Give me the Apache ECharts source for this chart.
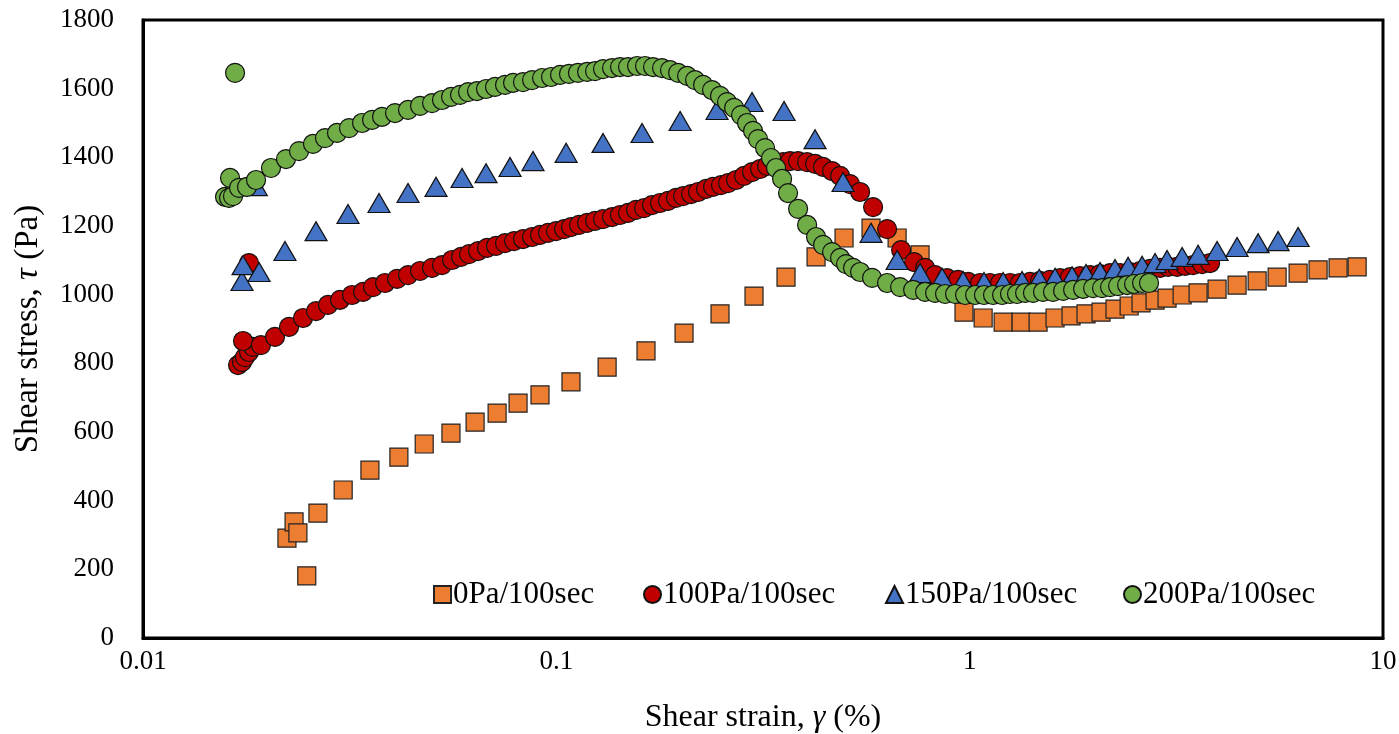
<!DOCTYPE html>
<html>
<head>
<meta charset="utf-8">
<script src="https://cdn.jsdelivr.net/npm/echarts@6/dist/echarts.min.js"></script>
<style>
  html, body { margin: 0; padding: 0; background: #fff; }
  #chart { width: 1399px; height: 734px; }
</style>
</head>
<body>
<div id="chart"></div>
<script>
// 0Pa/100sec
var strain0 = [0.0223, 0.0232, 0.0237, 0.0249, 0.0265, 0.0305, 0.0354, 0.0416, 0.0479, 0.0556,
  0.0636, 0.0719, 0.0808, 0.0913, 0.1085, 0.1327, 0.1648, 0.2037, 0.2489, 0.3008,
  0.3595, 0.4250, 0.4967, 0.5773, 0.6675, 0.7586, 0.969, 1.078, 1.205, 1.332,
  1.464, 1.609, 1.759, 1.912, 2.079, 2.247, 2.431, 2.598, 2.809, 3.003,
  3.266, 3.570, 3.968, 4.436, 4.960, 5.544, 6.232, 6.966, 7.787, 8.659];
var stress0 = [291, 338, 306, 181, 364, 431, 489, 527, 565, 597,
  629, 655, 684, 708, 746, 789, 836, 888, 944, 996,
  1051, 1110, 1165, 1194, 1165, 1116, 949, 932, 920, 920,
  920, 932, 938, 944, 949, 958, 967, 976, 984, 990,
  999, 1005, 1016, 1028, 1040, 1051, 1063, 1072, 1078, 1081];

// 100Pa/100sec
var strain1 = [0.01698, 0.01736, 0.01765, 0.01805, 0.01845, 0.01746, 0.01805, 0.01929, 0.02086, 0.02256,
  0.02439, 0.02622, 0.02803, 0.02997, 0.03204, 0.03407, 0.03602, 0.03851, 0.04118, 0.04377,
  0.04680, 0.05004, 0.05289, 0.05594, 0.05881, 0.06149, 0.06465, 0.06798, 0.07146, 0.07514,
  0.07903, 0.08307, 0.08735, 0.09132, 0.09548, 0.09983, 0.1044, 0.1085, 0.1135, 0.1187,
  0.1241, 0.1297, 0.1364, 0.1426, 0.1491, 0.1559, 0.1630, 0.1704, 0.1782, 0.1863,
  0.1948, 0.2026, 0.2118, 0.2202, 0.2303, 0.2394, 0.2503, 0.2603, 0.2722, 0.2846,
  0.2975, 0.3111, 0.3235, 0.3382, 0.3536, 0.3677, 0.3845, 0.4043, 0.4227, 0.4419,
  0.4647, 0.4859, 0.5136, 0.5431, 0.5839, 0.6313, 0.6826, 0.7338, 0.7801, 0.8248,
  0.8816, 0.9376, 0.9913, 1.060, 1.120, 1.185, 1.252, 1.324, 1.400, 1.480,
  1.565, 1.655, 1.750, 1.850, 1.956, 2.068, 2.186, 2.312, 2.444, 2.584,
  2.733, 2.889, 3.020, 3.176, 3.321, 3.472, 3.651, 3.817];
var stress1 = [795, 804, 818, 833, 848, 865, 1092, 853, 877, 906,
  932, 952, 970, 985, 999, 1008, 1022, 1034, 1046, 1057,
  1069, 1078, 1086, 1101, 1110, 1118, 1127, 1136, 1142, 1150,
  1156, 1162, 1168, 1174, 1180, 1185, 1191, 1197, 1203, 1209,
  1215, 1220, 1226, 1232, 1238, 1247, 1252, 1261, 1267, 1273,
  1282, 1287, 1293, 1299, 1308, 1314, 1319, 1325, 1334, 1346,
  1357, 1366, 1375, 1383, 1386, 1389, 1389, 1386, 1381, 1372,
  1360, 1346, 1322, 1299, 1255, 1191, 1130, 1095, 1078, 1057,
  1048, 1043, 1037, 1034, 1034, 1034, 1034, 1034, 1037, 1040,
  1043, 1048, 1051, 1054, 1057, 1060, 1063, 1063, 1066, 1069,
  1075, 1078, 1081, 1081, 1084, 1086, 1089, 1092];

// 150Pa/100sec
var strain2 = [0.01736, 0.01746, 0.01909, 0.0188, 0.02205, 0.02622, 0.03133, 0.03724, 0.04377, 0.05116,
  0.05914, 0.0676, 0.07727, 0.08782, 0.1056, 0.1297, 0.1612, 0.1993, 0.2448, 0.2975,
  0.3556, 0.4226, 0.494, 0.5773, 0.6675, 0.7586, 0.8577, 0.9639, 1.083, 1.205,
  1.339, 1.473, 1.609, 1.769, 1.912, 2.068, 2.247, 2.417, 2.613, 2.809,
  3.003, 3.266, 3.57, 3.968, 4.436, 4.987, 5.574, 6.232];
var stress2 = [1040, 1086, 1066, 1316, 1127, 1185, 1235, 1267, 1296, 1314,
  1340, 1354, 1372, 1389, 1413, 1442, 1471, 1506, 1538, 1561,
  1535, 1453, 1328, 1180, 1101, 1063, 1049, 1040, 1037, 1037,
  1040, 1046, 1049, 1054, 1060, 1066, 1075, 1081, 1084, 1092,
  1101, 1110, 1116, 1127, 1139, 1150, 1156, 1168];

// 200Pa/100sec
var strain3 = [0.0167, 0.01579, 0.01615, 0.01651, 0.01624, 0.01707, 0.01785, 0.01877, 0.0204, 0.02218,
  0.02385, 0.02578, 0.02756, 0.02947, 0.03151, 0.03388, 0.03582, 0.03787, 0.04072, 0.04377,
  0.0468, 0.05004, 0.05289, 0.05563, 0.05848, 0.06115, 0.06428, 0.0676, 0.07107, 0.07514,
  0.07857, 0.08307, 0.08735, 0.09236, 0.0971, 0.1021, 0.1073, 0.1128, 0.1187, 0.1241,
  0.1297, 0.1364, 0.1426, 0.1491, 0.1568, 0.1639, 0.1714, 0.1802, 0.1884, 0.1971,
  0.2072, 0.2166, 0.2265, 0.2381, 0.2489, 0.2588, 0.2692, 0.2799, 0.2894, 0.2992,
  0.3076, 0.3199, 0.3307, 0.3401, 0.3517, 0.3636, 0.3845, 0.4043, 0.425, 0.4419,
  0.4647, 0.4859, 0.5023, 0.5223, 0.5431, 0.5806, 0.6313, 0.6787, 0.7297, 0.7801,
  0.8248, 0.8719, 0.9219, 0.9748, 1.031, 1.083, 1.139, 1.198, 1.252, 1.302,
  1.362, 1.423, 1.505, 1.591, 1.683, 1.779, 1.881, 1.989, 2.091, 2.186,
  2.286, 2.404, 2.499, 2.613, 2.716];
var stress3 = [1646, 1285, 1282, 1287, 1340, 1311, 1314, 1334, 1369, 1395,
  1418, 1439, 1456, 1471, 1485, 1500, 1509, 1518, 1529, 1538,
  1550, 1558, 1567, 1576, 1582, 1590, 1593, 1599, 1605, 1611,
  1617, 1619, 1625, 1631, 1634, 1640, 1643, 1646, 1649, 1651,
  1657, 1660, 1663, 1663, 1666, 1666, 1663, 1660, 1654, 1646,
  1637, 1625, 1611, 1596, 1579, 1561, 1544, 1523, 1500, 1477,
  1453, 1427, 1398, 1369, 1337, 1296, 1250, 1203, 1168, 1145,
  1124, 1107, 1089, 1078, 1066, 1049, 1034, 1022, 1014, 1008,
  1005, 1002, 1002, 999, 999, 999, 999, 999, 1002, 1002,
  1005, 1005, 1008, 1008, 1011, 1014, 1017, 1019, 1019, 1022,
  1025, 1028, 1031, 1034, 1034];

var seriesNames = ["0Pa/100sec", "100Pa/100sec", "150Pa/100sec", "200Pa/100sec"];
var xTickLabels = ["0.01", "0.1", "1", "10"];
var yTickLabels = ["0", "200", "400", "600", "800", "1000", "1200", "1400", "1600", "1800"];

var FONT = "'Liberation Serif', 'Times New Roman', serif";

function zip(xs, ys) {
  return xs.map(function (x, i) { return [x, ys[i]]; });
}

var chart = echarts.init(document.getElementById("chart"));

function legendAt(name, left) {
  return {
    data: [name],
    left: left,
    top: 574,
    itemWidth: 17,
    itemHeight: 17,
    itemGap: 0,
    textStyle: { fontFamily: FONT, fontSize: 31, color: "#000", padding: [0, 0, 0, -3] },
  };
}

var option = {
  animation: false,
  grid: {
    left: 143,
    right: 16,
    top: 20,
    bottom: 96,
    outerBoundsMode: "none",
    containLabel: false,
    show: true,
    borderColor: "#000",
    borderWidth: 3,
  },
  legend: [
    legendAt(seriesNames[0], 428),
    legendAt(seriesNames[1], 638),
    legendAt(seriesNames[2], 880),
    legendAt(seriesNames[3], 1118),
  ],
  xAxis: {
    type: "log",
    logBase: 10,
    min: 0.01,
    max: 10,
    axisLine: { show: true, lineStyle: { color: "#000", width: 3 } },
    axisTick: { show: false },
    splitLine: { show: false },
    axisLabel: {
      margin: 10,
      fontFamily: FONT,
      fontSize: 27,
      color: "#000",
      formatter: function (value, index) {
        return xTickLabels[index];
      },
    },
    name: "{a|Shear strain, }{b|γ}{a| (%)}",
    nameLocation: "middle",
    nameGap: 64,
    nameTextStyle: {
      rich: {
        a: { fontFamily: FONT, fontSize: 32, color: "#000" },
        b: { fontFamily: FONT, fontSize: 32, color: "#000", fontStyle: "italic" },
      },
    },
  },
  yAxis: {
    type: "value",
    min: 0,
    max: 1800,
    interval: 200,
    axisLine: { show: true, lineStyle: { color: "#000", width: 3 } },
    axisTick: { show: false },
    splitLine: { show: false },
    axisLabel: {
      margin: 29,
      fontFamily: FONT,
      fontSize: 27,
      color: "#000",
      formatter: function (value, index) {
        return yTickLabels[index];
      },
    },
    name: "{a|Shear stress, }{b|τ}{a| (Pa)}",
    nameLocation: "middle",
    nameGap: 98,
    nameTextStyle: {
      rich: {
        a: { fontFamily: FONT, fontSize: 33, color: "#000" },
        b: { fontFamily: FONT, fontSize: 33, color: "#000", fontStyle: "italic" },
      },
    },
  },
  series: [
    {
      name: seriesNames[0],
      type: "scatter",
      symbol: "rect",
      symbolSize: 18,
      itemStyle: { color: "#ED7D31", opacity: 1, borderColor: "#222", borderWidth: 1.2 },
      data: zip(strain0, stress0),
    },
    {
      name: seriesNames[1],
      type: "scatter",
      symbol: "circle",
      symbolSize: 19,
      itemStyle: { color: "#C00000", opacity: 1, borderColor: "#111", borderWidth: 1.2 },
      data: zip(strain1, stress1),
    },
    {
      name: seriesNames[2],
      type: "scatter",
      symbol: "triangle",
      symbolSize: [22, 19],
      itemStyle: { color: "#4472C4", opacity: 1, borderColor: "#111", borderWidth: 1.2 },
      data: zip(strain2, stress2),
    },
    {
      name: seriesNames[3],
      type: "scatter",
      symbol: "circle",
      symbolSize: 19,
      itemStyle: { color: "#70AD47", opacity: 1, borderColor: "#111", borderWidth: 1.2 },
      data: zip(strain3, stress3),
    },
  ],
};

chart.setOption(option);
</script>
</body>
</html>
